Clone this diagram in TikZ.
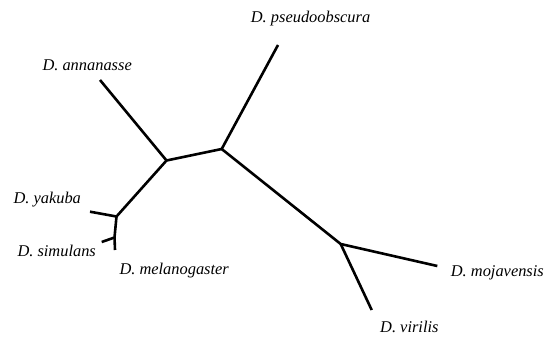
\documentclass[tikz,border=0pt]{standalone}
\usepackage{fontspec}
\setmainfont{Liberation Serif}
\begin{document}
\begin{tikzpicture}[x=1pt,y=-1pt,
  br/.style={line width=2.6pt,line cap=butt,line join=miter},
  lab/.style={font=\fontsize{16.4}{19}\selectfont\itshape,inner sep=0pt,anchor=base west}]
\useasboundingbox (0,0) rectangle (545,337);
% internal nodes
\coordinate (A) at (166.5,160.5);
\coordinate (B) at (221.7,149);
\coordinate (C) at (116.5,216.5);
\coordinate (Dn) at (114.5,237.5);
\coordinate (E) at (340.7,244);
% tips
\coordinate (tPs) at (278,45);
\coordinate (tAn) at (100,80);
\coordinate (tYa) at (90,211.7);
\coordinate (tSi) at (101.7,242);
\coordinate (tMe) at (115,250);
\coordinate (tMo) at (437.3,266);
\coordinate (tVi) at (371.7,310);
\draw[br] (tAn) -- (A) -- (B) -- (tPs);
\draw[br] (A) -- (C) -- (tYa);
\draw[br] (C) -- (Dn) -- (tSi);
\draw[br] (Dn) -- (tMe);
\draw[br] (B) -- (E) -- (tMo);
\draw[br] (E) -- (tVi);
% labels
\node[lab] (lPs) at (250.7,23) {D. pseudoobscura};
\node[lab] (lAn) at (42.3,70.7) {D. annanasse};
\node[lab] (lYa) at (13.3,203.3) {D. yakuba};
\node[lab] (lSi) at (17.3,256.7) {D. simulans};
\node[lab] (lMe) at (119.3,274.7) {D. melanogaster};
\node[lab,anchor=base east] (lMo) at (544,276.7) {D. mojavensis};
\node[lab] (lVi) at (380,332) {D. virilis};
\end{tikzpicture}
\end{document}
